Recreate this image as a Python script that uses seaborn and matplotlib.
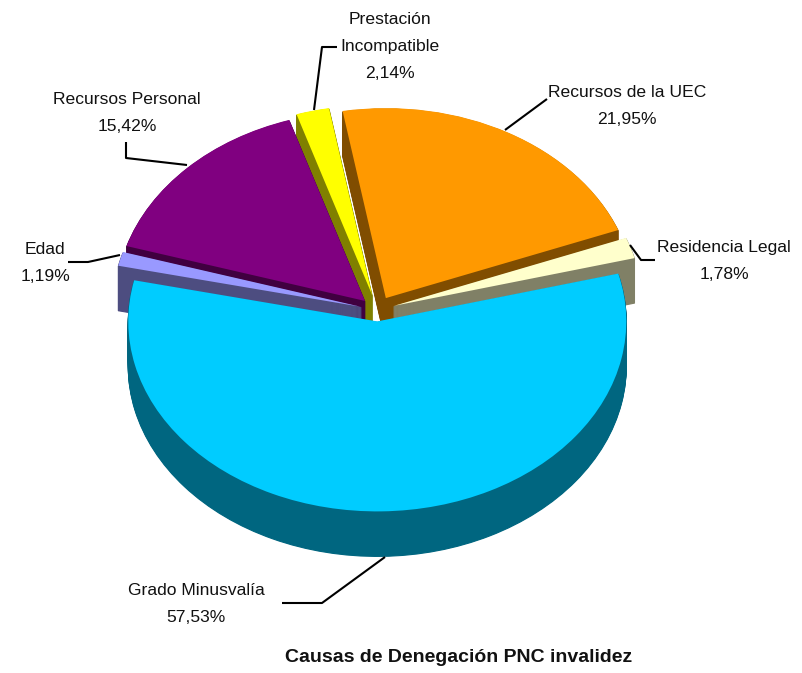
#!/usr/bin/env python3
"""Tarta 3D con sectores separados: causas de denegación PNC invalidez."""

import matplotlib
matplotlib.use("Agg")
import matplotlib.pyplot as plt
import seaborn as sns

# datos, en sentido horario desde arriba
causas = ["Recursos de la UEC", "Residencia Legal", "Grado Minusvalía",
          "Edad", "Recursos Personal", "Prestación\nIncompatible"]
valores = [21.95, 1.78, 57.53, 1.19, 15.42, 2.14]
etiquetas_valor = ["21,95%", "1,78%", "57,53%", "1,19%", "15,42%", "2,14%"]
titulo = "Causas de Denegación PNC invalidez"

colores_top = ["#FF9900", "#FFFFCC", "#00CCFF", "#9999FF", "#800080", "#FFFF00"]
colores_lado = ["#804D00", "#808066", "#006680", "#4D4D80", "#400040", "#808000"]

W, H = 803, 673
CX, CY = 377, 310      # centro de la tarta en pixeles
RX, RY = 249, 190      # semiejes de la elipse
PROF = 45              # profundidad en pixeles
explode = [0.072, 0.07, 0.06, 0.065, 0.068, 0.08]
orden = {0: 3, 1: 4, 2: 6, 3: 5, 4: 2, 5: 1}  # orden de pintado: atras primero


def px(x, y):
    """Pixeles de la imagen a coordenadas de datos."""
    return (x - CX) / RX, (CY - y) / RY


sns.set_theme(style="white")
plt.rcParams["font.family"] = ["Liberation Sans", "DejaVu Sans"]

fig = plt.figure(figsize=(W / 100, H / 100), dpi=100)
ax = fig.add_axes([0, 0, 1, 1])

# paredes: copias oscuras desplazadas hacia abajo
paleta_lado = sns.color_palette(colores_lado)
for d in range(PROF, 0, -1):
    wedges, _ = ax.pie(valores, colors=paleta_lado,
                       explode=explode, startangle=100, counterclock=False,
                       center=(0, -d / RY), radius=1, frame=True)
    for i, w in enumerate(wedges):
        w.set_edgecolor(paleta_lado[i])
        w.set_linewidth(0.8)
        w.set_zorder(orden[i] * 10)

# cara superior
wedges, _ = ax.pie(valores, colors=sns.color_palette(colores_top),
                   explode=explode, startangle=100, counterclock=False,
                   center=(0, 0), radius=1, frame=True,
                   wedgeprops={"linewidth": 0})
for i, w in enumerate(wedges):
    w.set_zorder(orden[i] * 10 + 1)

ax.set_aspect("auto")
ax.set_xlim(px(0, 0)[0], px(W, 0)[0])
ax.set_ylim(px(0, H)[1], px(0, 0)[1])
ax.axis("off")

# lineas guia
guias = [
    [(505, 130), (547, 99)],
    [(630, 245), (641, 260), (655, 260)],
    [(385, 557), (322, 603), (282, 603)],
    [(120, 255), (88, 262), (68, 262)],
    [(187, 165), (126, 158), (126, 142)],
    [(314, 110), (322, 47), (337, 47)],
]
for g in guias:
    xs, ys = zip(*[px(*p) for p in g])
    ax.plot(xs, ys, color="black", lw=1.5, zorder=100, solid_capstyle="butt")

# textos
pos_texto = [(627, 106), (724, 261), (196, 604), (45, 263), (127, 113), (390, 46)]
for nombre, val, p in zip(causas, etiquetas_valor, pos_texto):
    x, y = px(*p)
    ax.text(x, y, f"{nombre}\n{val}", ha="center", va="center", fontsize=12.6,
            color="#111111", linespacing=2.0, zorder=101)

x, y = px(459, 658)
ax.text(x, y, titulo, ha="center", va="center", fontsize=14,
        fontweight="bold", color="#111111", zorder=101)

fig.savefig("out.png", dpi=100)
